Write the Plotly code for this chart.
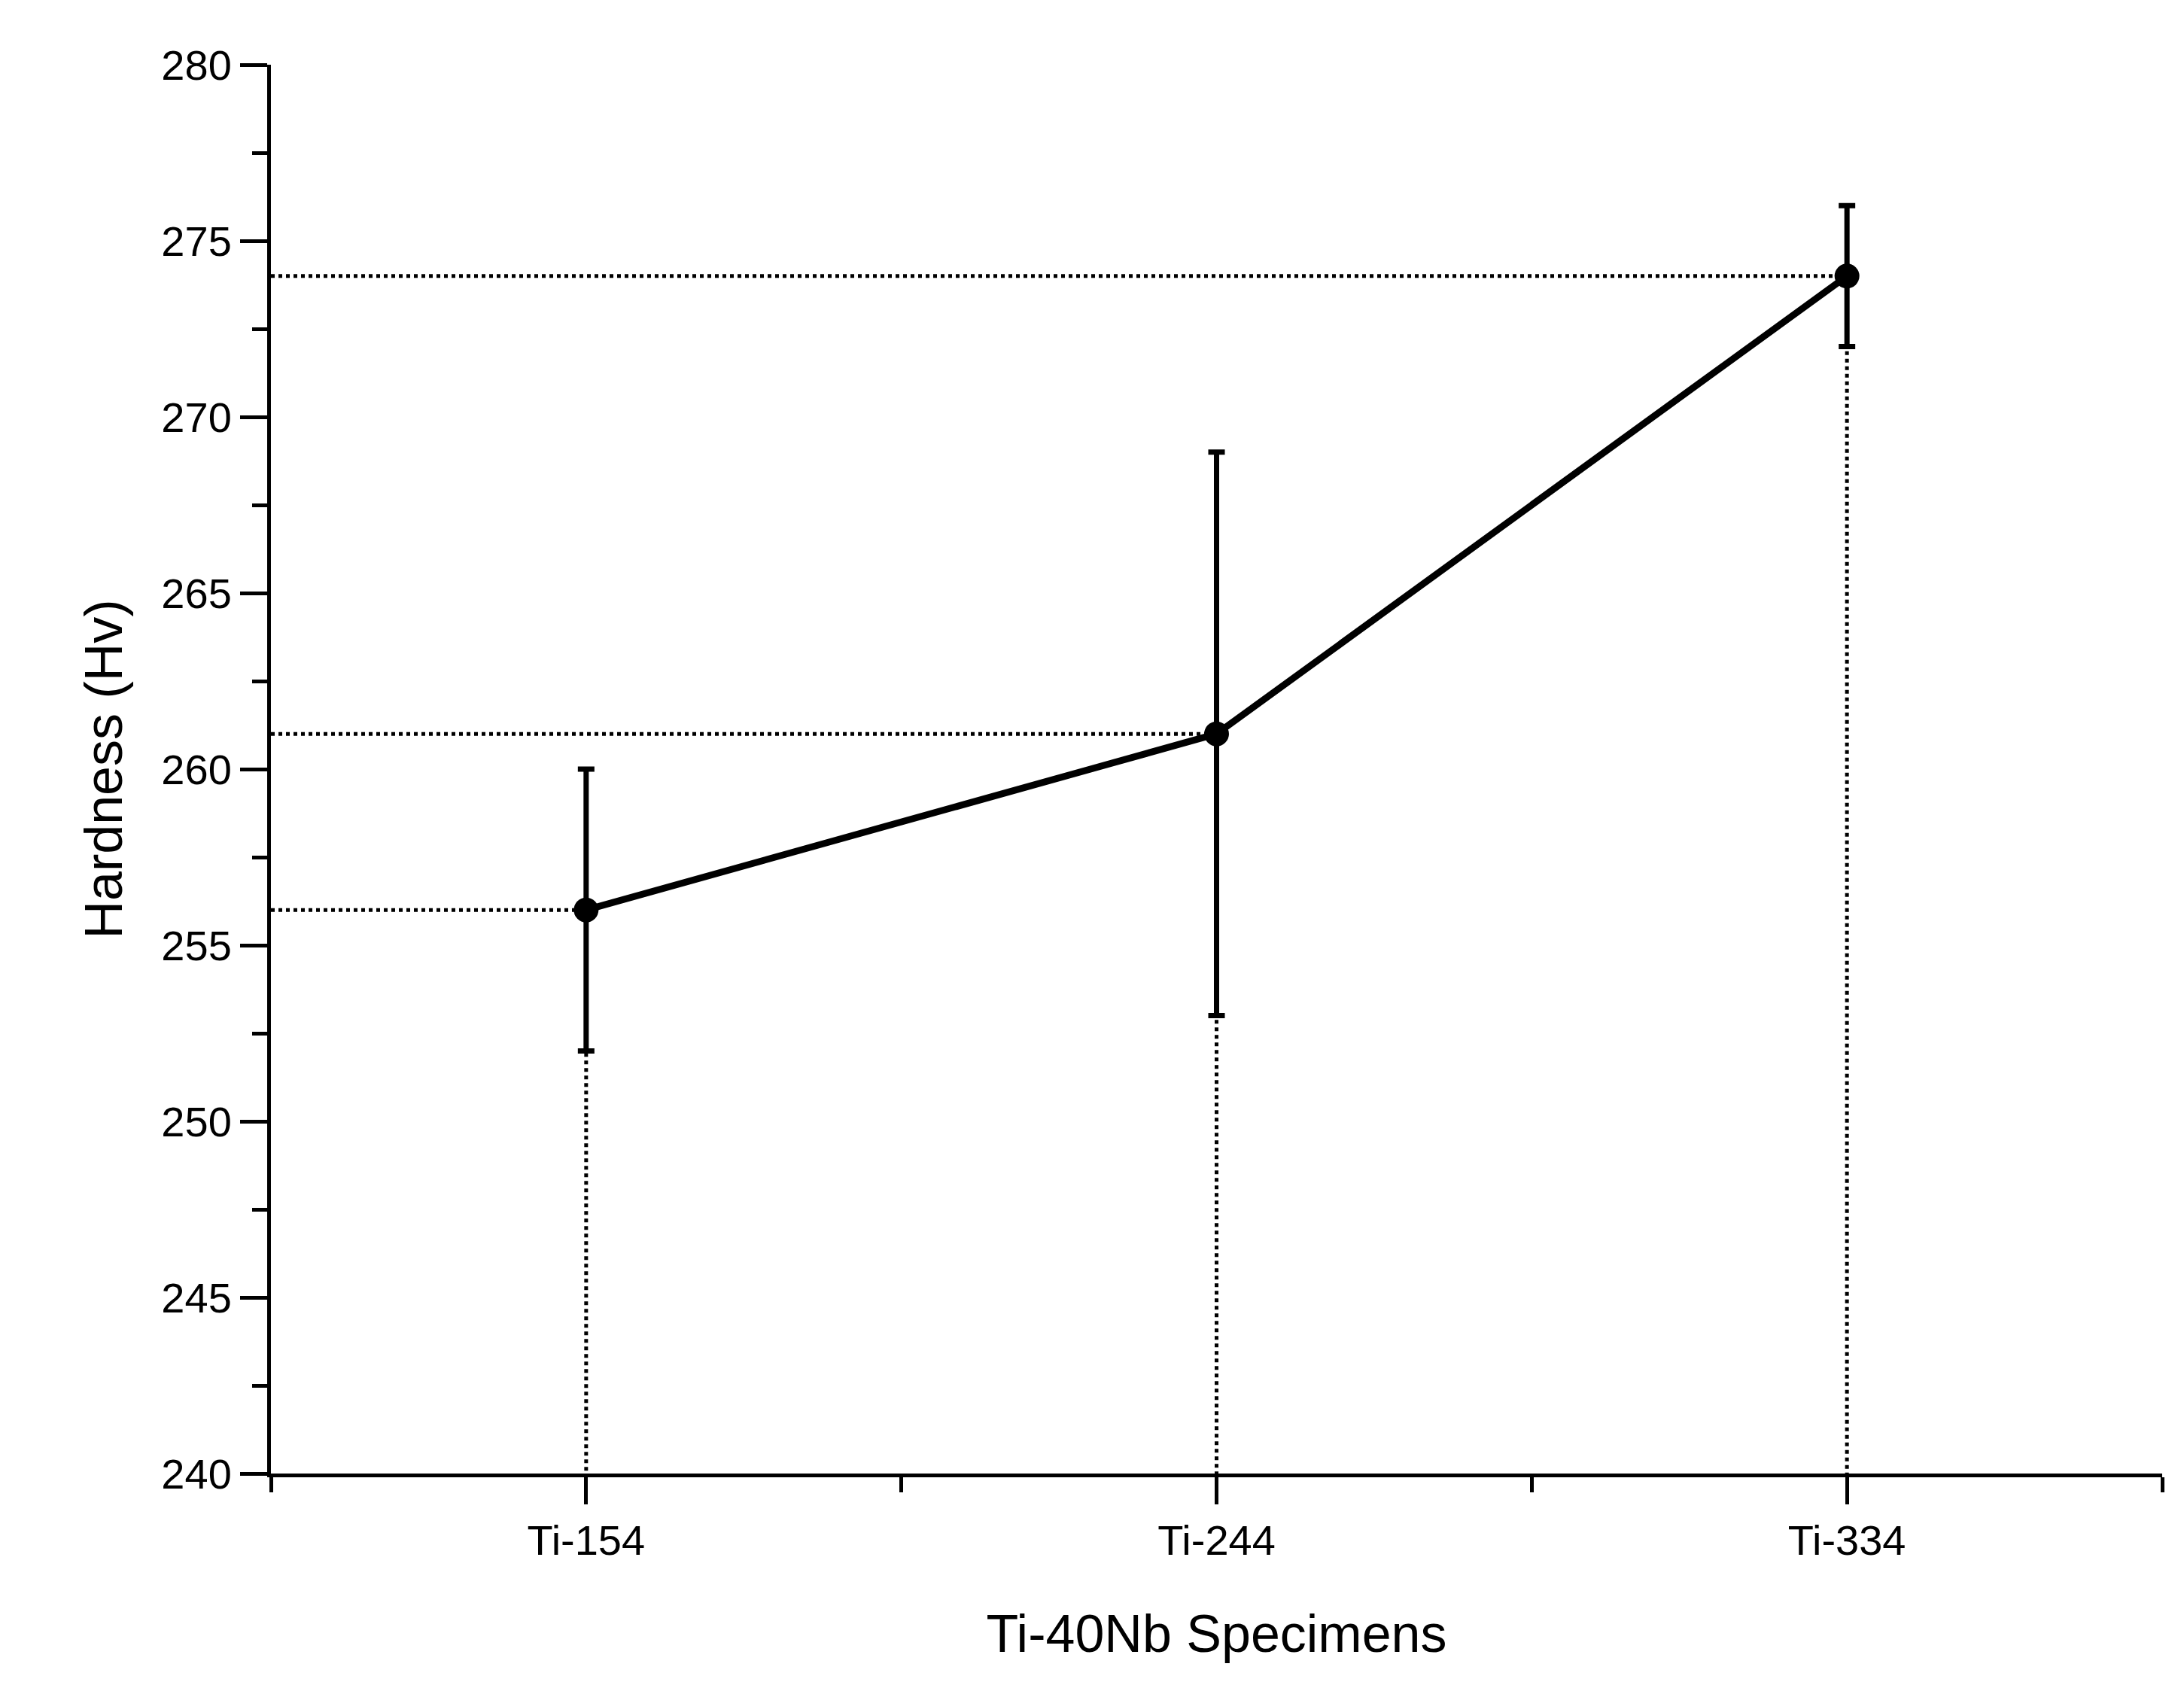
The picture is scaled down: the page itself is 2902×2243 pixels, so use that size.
import plotly.graph_objects as go

categories = ["Ti-154", "Ti-244", "Ti-334"]
hardness = [256, 261, 274]
err = [4, 8, 2]
yticks = [240, 245, 250, 255, 260, 265, 270, 275, 280]

xs = list(range(len(categories)))
fig = go.Figure()
# dotted drop lines
for x, y in zip(xs, hardness):
    fig.add_trace(go.Scatter(x=[-0.5, x], y=[y, y], mode="lines",
                             line=dict(color="black", width=5, dash="dot"), showlegend=False, hoverinfo="skip"))
    fig.add_trace(go.Scatter(x=[x, x], y=[y, 240], mode="lines",
                             line=dict(color="black", width=5, dash="dot"), showlegend=False, hoverinfo="skip"))
fig.add_trace(go.Scatter(x=xs, y=hardness, mode="lines+markers",
                         line=dict(color="black", width=9),
                         marker=dict(color="black", size=33),
                         error_y=dict(type="data", array=err, color="black", thickness=7, width=11),
                         showlegend=False))

fnt = dict(family="Liberation Sans, Arial", color="black")
fig.update_layout(
    width=2902, height=2243, plot_bgcolor="white", paper_bgcolor="white",
    margin=dict(l=352, r=37, t=78, b=293),
    xaxis=dict(range=[-0.5, 2.5], tickvals=xs, ticktext=categories, showline=True, linecolor="black",
               linewidth=5, ticks="outside", ticklen=36, tickwidth=5, tickcolor="black",
               minor=dict(tickvals=[0.5, 1.5, -0.5, 2.5], ticks="outside", ticklen=20, tickwidth=5, tickcolor="black"),
               showgrid=False, zeroline=False, tickfont=dict(size=56, **fnt),
               title=dict(text="Ti-40Nb Specimens", font=dict(size=70, **fnt), standoff=70)),
    yaxis=dict(range=[240, 280], tickvals=yticks, showline=True, linecolor="black", linewidth=5,
               ticks="outside", ticklen=36, tickwidth=5, tickcolor="black",
               minor=dict(dtick=2.5, ticks="outside", ticklen=20, tickwidth=5, tickcolor="black", showgrid=False),
               showgrid=False, zeroline=False, tickfont=dict(size=56, **fnt),
               title=dict(text="Hardness (Hv)", font=dict(size=70, **fnt), standoff=30)),
)
fig.write_html("out.html")
